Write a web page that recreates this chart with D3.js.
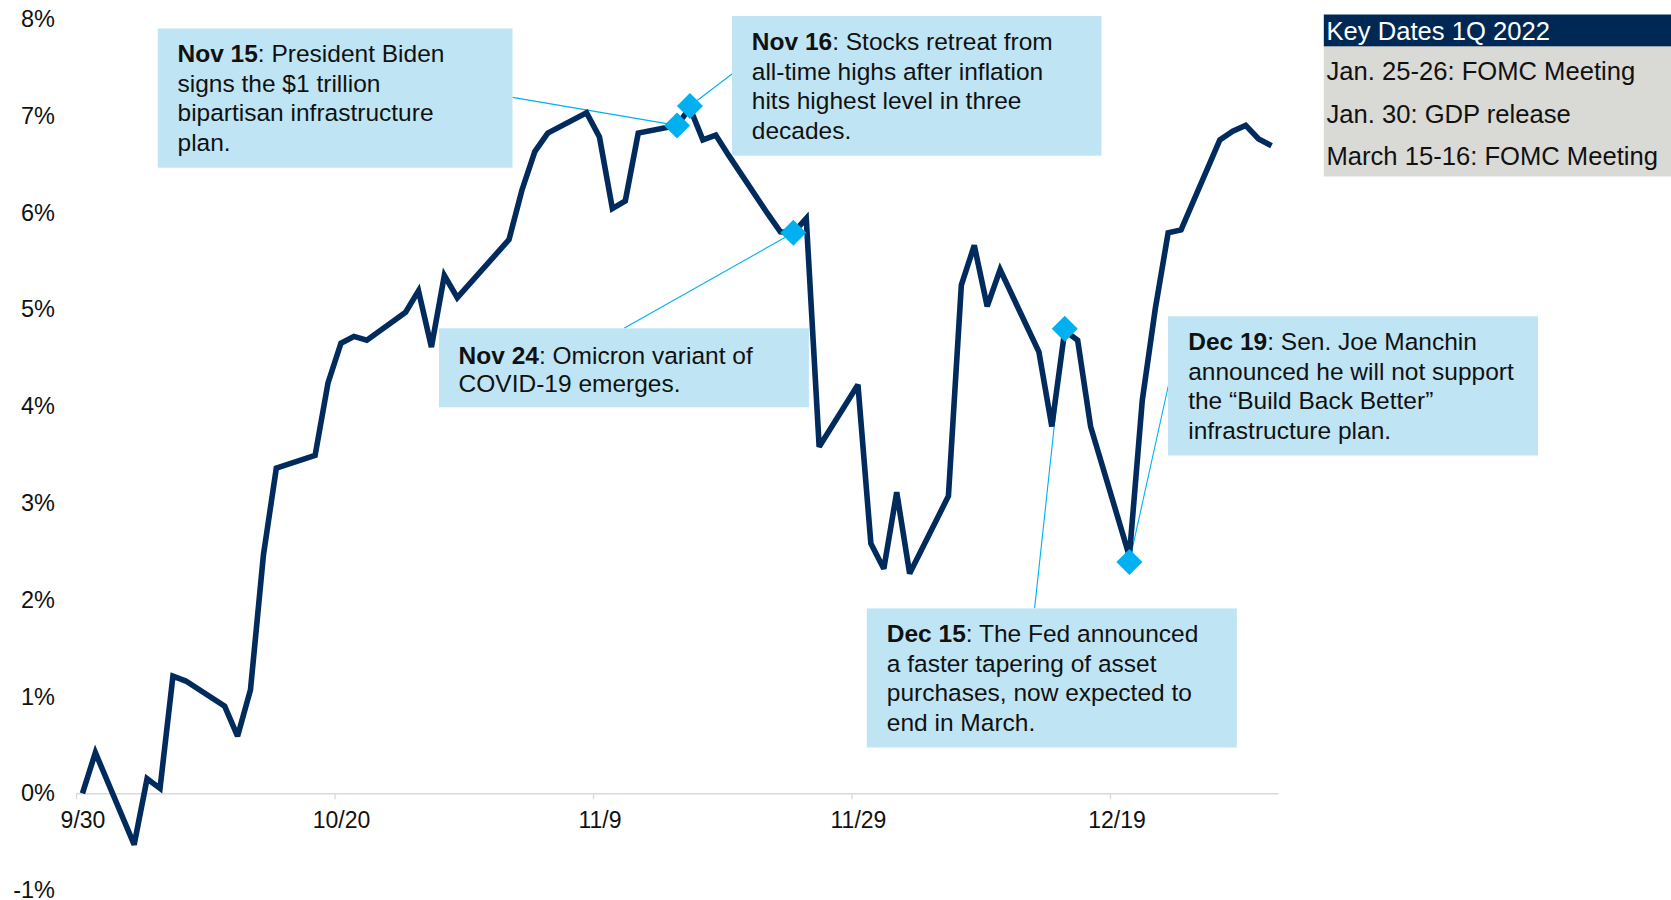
<!DOCTYPE html>
<html><head><meta charset="utf-8">
<script src="https://cdn.jsdelivr.net/npm/d3@7"></script>
<style>
html,body{margin:0;padding:0;background:#fff;}
svg{display:block;font-family:"Liberation Sans",Arial,sans-serif;}
</style></head><body>
<svg id="chart" width="1671" height="900"></svg>
<script>
// ---------------- DATA ----------------
const dates = [
 "2021-09-30","2021-10-01","2021-10-04","2021-10-05","2021-10-06","2021-10-07","2021-10-08",
 "2021-10-11","2021-10-12","2021-10-13","2021-10-14","2021-10-15","2021-10-18","2021-10-19",
 "2021-10-20","2021-10-21","2021-10-22","2021-10-25","2021-10-26","2021-10-27","2021-10-28",
 "2021-10-29","2021-11-01","2021-11-02","2021-11-03","2021-11-04","2021-11-05","2021-11-08",
 "2021-11-09","2021-11-10","2021-11-11","2021-11-12","2021-11-15","2021-11-16","2021-11-17",
 "2021-11-18","2021-11-19","2021-11-22","2021-11-23","2021-11-24","2021-11-25","2021-11-26",
 "2021-11-29","2021-11-30","2021-12-01","2021-12-02","2021-12-03","2021-12-06","2021-12-07",
 "2021-12-08","2021-12-09","2021-12-10","2021-12-13","2021-12-14","2021-12-15","2021-12-16",
 "2021-12-17","2021-12-20","2021-12-21","2021-12-22","2021-12-23","2021-12-24","2021-12-27",
 "2021-12-28","2021-12-29","2021-12-30","2021-12-31"];
const values = [
 0.00, 0.42, -0.53, 0.15, 0.05, 1.21, 1.16,
 0.90, 0.59, 1.07, 2.46, 3.36, 3.49, 4.24,
 4.65, 4.72, 4.68, 4.97, 5.19, 4.61, 5.35,
 5.12, 5.57, 5.72, 6.23, 6.63, 6.82, 7.03,
 6.78, 6.04, 6.12, 6.82, 6.90, 7.08, 6.75,
 6.80, 6.59, 5.99, 5.80, 5.79, 5.94, 3.58,
 4.22, 2.58, 2.32, 3.11, 2.27, 3.07, 5.25,
 5.66, 5.03, 5.41, 4.56, 3.79, 4.78, 4.68,
 3.79, 2.45, 4.06, 5.00, 5.79, 5.82, 6.75,
 6.84, 6.90, 6.76, 6.69];

const markerDates  = ["2021-11-15","2021-11-16","2021-11-24","2021-12-15","2021-12-20"];
const markerValues = [6.90, 7.10, 5.79, 4.80, 2.39];

const xTickDates  = ["2021-09-30","2021-10-20","2021-11-09","2021-11-29","2021-12-19"];
const xTickLabels = ["9/30","10/20","11/9","11/29","12/19"];
const yTickValues = [-1,0,1,2,3,4,5,6,7,8];
const yTickLabels = ["-1%","0%","1%","2%","3%","4%","5%","6%","7%","8%"];

const noteTitles = ["Nov 15","Nov 16","Nov 24","Dec 15","Dec 19"];
const noteLines = [
 [": President Biden","signs the $1 trillion","bipartisan infrastructure","plan."],
 [": Stocks retreat from","all-time highs after inflation","hits highest level in three","decades."],
 [": Omicron variant of","COVID-19 emerges."],
 [": The Fed announced","a faster tapering of asset","purchases, now expected to","end in March."],
 [": Sen. Joe Manchin","announced he will not support","the \u201cBuild Back Better\u201d","infrastructure plan."]
];

const keyTitle = "Key Dates 1Q 2022";
const keyItems = ["Jan. 25-26: FOMC Meeting","Jan. 30: GDP release","March 15-16: FOMC Meeting"];

// ---------------- LAYOUT ----------------
const parse = d3.utcParse("%Y-%m-%d");
const HALF_DAY = 12*3600*1000;
const svg = d3.select("#chart");

const x = d3.scaleUtc()
  .domain([parse("2021-09-30"), parse("2022-01-01")])
  .range([76, 1278]);
const y = d3.scaleLinear().domain([-1, 8]).range([890.1, 18.9]);

const navy = "#002b5c", cyan = "#00b0f0", boxFill = "#bfe5f5";

const pts = dates.map((d,i)=>({t:new Date(+parse(d)+HALF_DAY), v:values[i]}));
const mks = markerDates.map((d,i)=>({t:new Date(+parse(d)+HALF_DAY), v:markerValues[i]}));

// note box layouts: [x, y, w, h, textX, firstBaseline, lineStep, anchorX, anchorY]
const noteLayout = [
 [157.8, 28.5, 354.7, 139.2, 177.5, 61.7, 29.8, 512.5, 97.4],
 [732.0, 16.0, 369.5, 139.7, 751.8, 50.0, 29.5, 732.0, 74.0],
 [439.0, 328.3, 369.9, 79.0, 458.6, 363.6, 28.5, 624.0, 328.3],
 [866.8, 608.4, 370.0, 139.1, 886.8, 642.0, 29.5, 1034.6, 608.4],
 [1168.0, 316.3, 370.0, 139.2, 1188.2, 350.2, 29.5, 1168.5, 385.0]
];

// connectors
svg.append("g").selectAll("line").data(mks).join("line")
  .attr("x1", d=>x(d.t)).attr("y1", d=>y(d.v))
  .attr("x2", (d,i)=>noteLayout[i][7]).attr("y2", (d,i)=>noteLayout[i][8])
  .attr("stroke", cyan).attr("stroke-width", 1.1);

// x axis
const xAxis = d3.axisBottom(x)
  .tickValues(xTickDates.map(parse))
  .tickFormat((d,i)=>xTickLabels[i])
  .tickSize(6).tickSizeOuter(0);
const gx = svg.append("g").attr("transform", `translate(0,${y(0)})`).call(xAxis);
gx.select(".domain").attr("stroke", "#d9d9d9").attr("stroke-width", 1.6);
gx.selectAll(".tick line").attr("stroke", "#d9d9d9").attr("stroke-width", 1.3);
gx.selectAll(".tick text")
  .attr("x", (x(parse("2021-10-01")) - x(parse("2021-09-30")))/2)
  .attr("dy", null).attr("y", 35)
  .attr("font-size", 23).attr("fill", "#111")
  .attr("font-family", '"Liberation Sans",Arial,sans-serif');

// y axis labels
const yAxis = d3.axisLeft(y).tickValues(yTickValues)
  .tickFormat((d,i)=>yTickLabels[i]).tickSize(0).tickPadding(0);
const gy = svg.append("g").attr("transform", "translate(55,0)").call(yAxis);
gy.select(".domain").remove();
gy.selectAll(".tick text").attr("dy", null).attr("y", 7.6)
  .attr("font-size", 23.5).attr("fill", "#111")
  .attr("font-family", '"Liberation Sans",Arial,sans-serif');

// line
svg.append("path").datum(pts)
  .attr("d", d3.line().x(d=>x(d.t)).y(d=>y(d.v)))
  .attr("fill", "none").attr("stroke", navy).attr("stroke-width", 5.6)
  .attr("stroke-linejoin", "miter").attr("stroke-miterlimit", 3);

// diamonds
svg.append("g").selectAll("path").data(mks).join("path")
  .attr("transform", d=>`translate(${x(d.t)},${y(d.v)})`)
  .attr("d", "M0,-13L13,0L0,13L-13,0Z")
  .attr("fill", cyan);

// note boxes
noteTitles.forEach((title, i)=>{
  const L = noteLayout[i];
  const g = svg.append("g");
  g.append("rect").attr("x", L[0]).attr("y", L[1]).attr("width", L[2]).attr("height", L[3]).attr("fill", boxFill);
  const t = g.append("text").attr("font-size", 24.5).attr("fill", "#111");
  noteLines[i].forEach((ln, j)=>{
    if (j===0) {
      t.append("tspan").attr("x", L[4]).attr("y", L[5]).attr("font-weight", "bold").text(title);
      t.append("tspan").text(ln);
    } else {
      t.append("tspan").attr("x", L[4]).attr("y", L[5] + j*L[6]).text(ln);
    }
  });
});

// key dates box
const kg = svg.append("g");
kg.append("rect").attr("x", 1323.8).attr("y", 46).attr("width", 347.2).attr("height", 130.5).attr("fill", "#d9d9d6");
kg.append("rect").attr("x", 1323.8).attr("y", 14.5).attr("width", 347.2).attr("height", 31.8).attr("fill", "#002855");
kg.append("text").attr("x", 1326.5).attr("y", 40).attr("font-size", 25.6).attr("fill", "#fff").text(keyTitle);
kg.selectAll("text.item").data(keyItems).join("text").attr("class","item")
  .attr("x", 1326.5).attr("y", (d,i)=>80.3 + i*42.5)
  .attr("font-size", 25.6).attr("fill", "#111").text(d=>d);
</script>
</body></html>
